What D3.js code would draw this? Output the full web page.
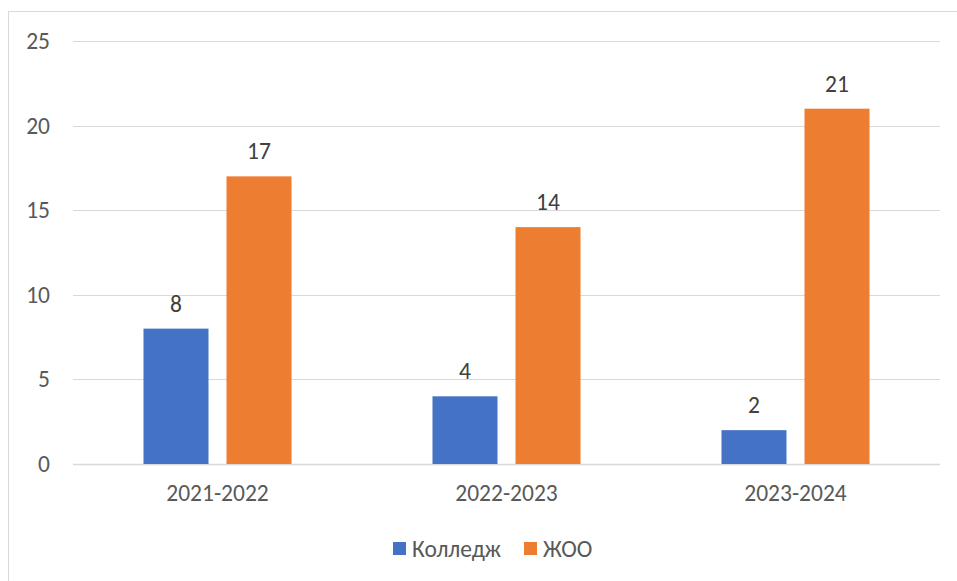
<!DOCTYPE html>
<html>
<head>
<meta charset="utf-8">
<script src="https://cdn.jsdelivr.net/npm/d3@7"></script>
<style>
  body { margin: 0; background: #fff; }
  text { font-family: Carlito, "Open Sans", "Noto Sans", sans-serif; fill: #595959; }
</style>
</head>
<body>
<script>
// chart data
var years = ["2021-2022", "2022-2023", "2023-2024"]
var series = ["Колледж", "ЖОО"]
var college = [8, 4, 2]
var zhoo = [17, 14, 21]
var yTicks = [0, 5, 10, 15, 20, 25]
var colors = ["#4472C4", "#ED7D31"]

var w = 957
var h = 581
var plotLeft = 73, plotRight = 940, plotTop = 41, plotBottom = 464
var fs = "23.5px"

var svg = d3.select("body").append("svg")
  .attr("width", w)
  .attr("height", h)

// chart frame (goes past the window on right and bottom)
svg.append("rect")
  .attr("x", 8.5).attr("y", 11.5)
  .attr("width", 1200).attr("height", 1200)
  .attr("fill", "none")
  .attr("stroke", "#D9D9D9")

var x0 = d3.scaleBand().domain(years).range([plotLeft, plotRight])
var x1 = d3.scaleBand().domain(series).range([0, x0.bandwidth()])
  .paddingInner(0.217).paddingOuter(0.849)
var y = d3.scaleLinear().domain([0, 25]).range([plotBottom, plotTop])
var color = d3.scaleOrdinal().domain(series).range(colors)

// gridlines
svg.selectAll(".grid")
  .data(yTicks)
  .enter().append("line")
  .attr("x1", plotLeft).attr("x2", plotRight)
  .attr("y1", function(d) { return Math.round(y(d)) + 0.5 })
  .attr("y2", function(d) { return Math.round(y(d)) + 0.5 })
  .attr("stroke", "#D9D9D9")
  .attr("stroke-width", function(d) { return d == 0 ? 1.5 : 1 })

// y labels
var yAxis = d3.axisLeft(y).tickValues(yTicks).tickSize(0).tickPadding(0)
var ya = svg.append("g")
  .attr("transform", "translate(50,0)")
  .call(yAxis)
ya.select(".domain").remove()
ya.selectAll("text").style("font-size", fs).attr("fill", "#595959")

// x labels
var xAxis = d3.axisBottom(x0).tickSize(0).tickPadding(0)
var xa = svg.append("g")
  .attr("transform", "translate(0,484)")
  .call(xAxis)
xa.select(".domain").remove()
xa.selectAll("text").style("font-size", fs).attr("fill", "#595959")

var rows = years.map(function(yr, i) {
  return { year: yr, values: [{ k: series[0], v: college[i] }, { k: series[1], v: zhoo[i] }] }
})

var groups = svg.selectAll(".group")
  .data(rows)
  .enter().append("g")
  .attr("transform", function(d) { return "translate(" + x0(d.year) + ",0)" })

groups.selectAll("rect")
  .data(function(d) { return d.values })
  .enter().append("rect")
  .attr("x", function(d) { return x1(d.k) })
  .attr("y", function(d) { return y(d.v) })
  .attr("width", x1.bandwidth())
  .attr("height", function(d) { return y(0) - y(d.v) })
  .attr("fill", function(d) { return color(d.k) })

groups.selectAll(".lbl")
  .data(function(d) { return d.values })
  .enter().append("text")
  .attr("x", function(d) { return x1(d.k) + x1.bandwidth() / 2 })
  .attr("y", function(d) { return y(d.v) - 17 })
  .attr("text-anchor", "middle")
  .style("font-size", fs)
  .style("fill", "#404040")
  .text(function(d) { return d.v })

// legend
var legendX = [393, 524]
var legend = svg.selectAll(".legend")
  .data(series)
  .enter().append("g")
  .attr("transform", function(d, i) { return "translate(" + legendX[i] + ",542)" })

legend.append("rect")
  .attr("width", 13).attr("height", 13)
  .attr("fill", function(d) { return color(d) })

legend.append("text")
  .attr("x", 19)
  .attr("y", 15)
  .style("font-size", fs)
  .text(function(d) { return d })
</script>
</body>
</html>
